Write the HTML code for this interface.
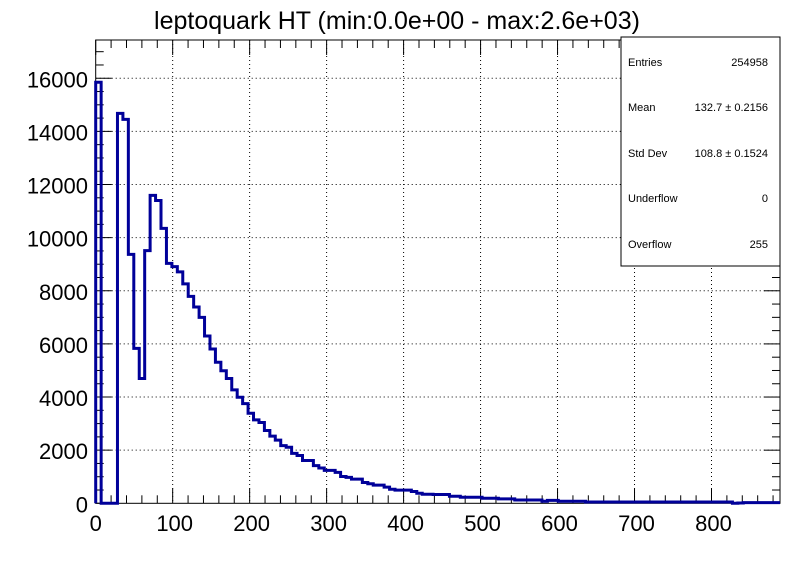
<!DOCTYPE html>
<html><head><meta charset="utf-8"><style>
body{margin:0;background:#fff;}
svg{display:block;font-family:"Liberation Sans",sans-serif;}
</style></head><body>
<svg id="c" width="796" height="572">
<rect width="796" height="572" fill="#fff"/>
<text x="397" y="29" font-size="25" text-anchor="middle">leptoquark HT (min:0.0e+00 - max:2.6e+03)</text>
<g id="grid"></g><g id="axes"></g><g id="hist"></g>
<g>
<rect x="621" y="37" width="159" height="229" fill="#fff" stroke="#000" stroke-width="1"/>
<g font-size="11">
<text x="628" y="66">Entries</text><text x="768" y="66" text-anchor="end">254958</text>
<text x="628" y="111">Mean</text><text x="768" y="111" text-anchor="end">132.7  ± 0.2156</text>
<text x="628" y="157">Std Dev</text><text x="768" y="157" text-anchor="end">108.8  ± 0.1524</text>
<text x="628" y="202">Underflow</text><text x="768" y="202" text-anchor="end">0</text>
<text x="628" y="248">Overflow</text><text x="768" y="248" text-anchor="end">255</text>
</g></g>
</svg>
<script>
const binWidth = 7.07;
const counts = [15850,0,0,0,14680,14450,9370,5830,4700,9510,11590,11400,10350,9030,8910,8710,8260,7790,7390,7000,6300,5810,5310,4990,4700,4270,3990,3750,3390,3140,3040,2740,2530,2380,2170,2110,1880,1800,1610,1610,1420,1330,1240,1240,1165,1010,975,910,910,785,735,685,685,610,530,495,495,495,445,380,340,340,330,330,330,265,265,230,230,230,230,190,190,190,165,165,165,125,125,125,125,125,75,110,110,75,75,75,75,75,50,50,50,50,50,50,50,50,50,50,50,50,50,50,50,50,50,50,50,50,50,50,50,50,50,50,50,0,10,25,25,25,25,25,25,25];
const xTicks = [0,100,200,300,400,500,600,700,800];
const yTicks = [0,2000,4000,6000,8000,10000,12000,14000,16000];
const xMin=0,xMax=889,yMin=0,yMax=17440;
const L=95.7,R=780,T=40,B=503.3;
const NS='http://www.w3.org/2000/svg';
function sx(v){return L+(v-xMin)/(xMax-xMin)*(R-L);}
function sy(v){return B-(v-yMin)/(yMax-yMin)*(B-T);}
function mk(tag,attrs,parent){const e=document.createElementNS(NS,tag);for(const k in attrs)e.setAttribute(k,attrs[k]);parent.appendChild(e);return e;}
const grid=document.getElementById('grid'),axes=document.getElementById('axes'),hist=document.getElementById('hist');
xTicks.forEach(v=>{if(v===0)return;const l=mk('line',{x1:sx(v),x2:sx(v),y1:T,y2:B,stroke:'#000','stroke-dasharray':'1,3','stroke-width':1},grid);

});
yTicks.forEach(v=>{if(v===0)return;const l=mk('line',{x1:L,x2:R,y1:sy(v),y2:sy(v),stroke:'#000','stroke-dasharray':'1,3','stroke-width':1},grid);

});
const fr=mk('rect',{x:L,y:T,width:R-L,height:B-T,fill:'none',stroke:'#000','stroke-width':1},axes);


for(let v=0;v<=xMax;v+=20){const maj=v%100===0;const len=maj?15:8;
mk('line',{x1:sx(v),x2:sx(v),y1:B,y2:B-len,stroke:'#000'},axes);
mk('line',{x1:sx(v),x2:sx(v),y1:T,y2:T+len,stroke:'#000'},axes);}
for(let v=0;v<=yMax;v+=500){const maj=v%2000===0;const len=maj?16:8;
mk('line',{x1:L,x2:L+len,y1:sy(v),y2:sy(v),stroke:'#000'},axes);
mk('line',{x1:R,x2:R-len,y1:sy(v),y2:sy(v),stroke:'#000'},axes);}
xTicks.forEach(v=>{const t=mk('text',{x:sx(v)+(v===0?0:2),y:531,'font-size':22,'text-anchor':'middle'},axes);t.textContent=v;

});
yTicks.forEach(v=>{const t=mk('text',{x:88,y:sy(v)+9,'font-size':22,'text-anchor':'end'},axes);t.textContent=v;

});
let d='M'+sx(0)+','+sy(0);
counts.forEach((c,i)=>{const x0=sx(i*binWidth),x1=sx(Math.min((i+1)*binWidth,xMax));d+=' L'+x0+','+sy(c)+' L'+x1+','+sy(c);});
const p=mk('path',{d:d,fill:'none',stroke:'#000099','stroke-width':3},hist);


</script>
</body></html>
